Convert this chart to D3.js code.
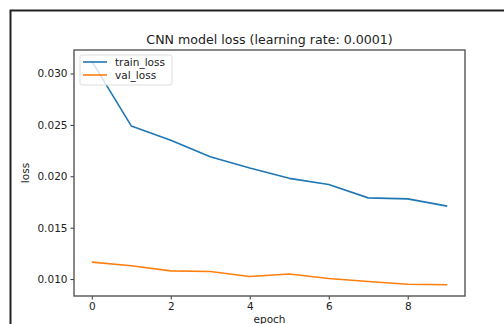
<!DOCTYPE html>
<html>
<head>
<meta charset="utf-8">
<script src="https://cdn.jsdelivr.net/npm/d3@7"></script>
<style>
  body { margin: 0; background: #fff; }
  svg { display: block; font-family: "DejaVu Sans", sans-serif; }
</style>
</head>
<body>
<script>
// values
var epochs = [0, 1, 2, 3, 4, 5, 6, 7, 8, 9];
var trainLoss = [0.0312, 0.0249, 0.0235, 0.0219, 0.0208, 0.0198, 0.0192, 0.0179, 0.0178, 0.0171];
var valLoss = [0.01165, 0.0113, 0.0108, 0.01074, 0.01025, 0.0105, 0.01006, 0.00977, 0.0095, 0.00944];
var xTicks = [0, 2, 4, 6, 8];
var yTicks = [0.010, 0.015, 0.020, 0.025, 0.030];
var seriesNames = ["train_loss", "val_loss"];
var colors = ["#1f77b4", "#ff7f0e"];

var W = 504, H = 324;
var margin = {top: 50, right: 39, bottom: 28, left: 74},
    width = W - margin.left - margin.right,
    height = H - margin.top - margin.bottom;

var svg = d3.select("body").append("svg")
    .attr("width", W)
    .attr("height", H);

// outer frame of the screenshot
svg.append("rect")
    .attr("x", 10.5).attr("y", 10.5)
    .attr("width", W + 20).attr("height", H + 20)
    .attr("fill", "none")
    .attr("stroke", "#222")
    .attr("stroke-width", 2);

var allVals = trainLoss.concat(valLoss);
var yMin = d3.min(allVals), yMax = d3.max(allVals);
var yPad = (yMax - yMin) * 0.05;
var xPad = (d3.max(epochs) - d3.min(epochs)) * 0.05;

var x = d3.scaleLinear()
    .domain([d3.min(epochs) - xPad, d3.max(epochs) + xPad])
    .range([0, width]);
var y = d3.scaleLinear()
    .domain([yMin - yPad, yMax + yPad])
    .range([height, 0]);

var g = svg.append("g")
    .attr("transform", "translate(" + margin.left + "," + margin.top + ")");

var line = d3.line()
    .x(function(d, i) { return x(epochs[i]); })
    .y(function(d) { return y(d); });

[trainLoss, valLoss].forEach(function(s, k) {
    g.append("path")
        .datum(s)
        .attr("fill", "none")
        .attr("stroke", colors[k])
        .attr("stroke-width", 1.6)
        .attr("stroke-linejoin", "round")
        .attr("d", line);
});

// axes
var xAxis = g.append("g")
    .attr("transform", "translate(0," + height + ")")
    .call(d3.axisBottom(x).tickValues(xTicks).tickSize(3.5).tickPadding(3).tickFormat(d3.format("d")));
var yAxis = g.append("g")
    .call(d3.axisLeft(y).tickValues(yTicks).tickSize(3.5).tickPadding(3).tickFormat(d3.format(".3f")));

[xAxis, yAxis].forEach(function(a) {
    a.select(".domain").remove();
    a.selectAll("line").attr("stroke", "#333");
    a.selectAll("text")
        .attr("fill", "#222")
        .style("font-size", "10.5px")
        .style("font-family", "DejaVu Sans, sans-serif");
});

// plot frame
g.append("rect")
    .attr("x", 0).attr("y", 0)
    .attr("width", width).attr("height", height)
    .attr("fill", "none")
    .attr("stroke", "#555")
    .attr("stroke-width", 1.4);

// title
svg.append("text")
    .attr("x", margin.left + width / 2)
    .attr("y", 44)
    .attr("text-anchor", "middle")
    .attr("fill", "#222")
    .style("font-size", "12.6px")
    .text("CNN model loss (learning rate: 0.0001)");

// axis labels
svg.append("text")
    .attr("x", margin.left + width / 2)
    .attr("y", 323)
    .attr("text-anchor", "middle")
    .attr("fill", "#222")
    .style("font-size", "10.5px")
    .text("epoch");

svg.append("text")
    .attr("transform", "translate(29," + (margin.top + height / 2) + ") rotate(-90)")
    .attr("text-anchor", "middle")
    .attr("fill", "#222")
    .style("font-size", "10.5px")
    .text("loss");

// legend
var lg = g.append("g").attr("transform", "translate(6,5)");
lg.append("rect")
    .attr("width", 92).attr("height", 30)
    .attr("rx", 2)
    .attr("fill", "#fff")
    .attr("fill-opacity", 0.8)
    .attr("stroke", "#ddd");
seriesNames.forEach(function(name, i) {
    var yy = 7 + i * 13;
    lg.append("line")
        .attr("x1", 3).attr("x2", 27)
        .attr("y1", yy).attr("y2", yy)
        .attr("stroke", colors[i])
        .attr("stroke-width", 1.6);
    lg.append("text")
        .attr("x", 35).attr("y", yy + 3.5)
        .attr("fill", "#222")
        .style("font-size", "10.5px")
        .text(name);
});
</script>
</body>
</html>
